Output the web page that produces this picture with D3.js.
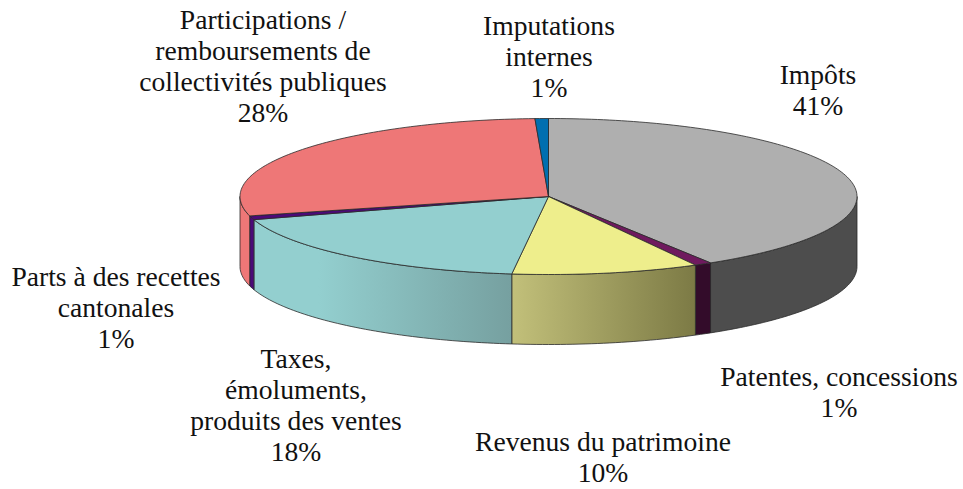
<!DOCTYPE html>
<html>
<head>
<meta charset="utf-8">
<style>
  html, body { margin: 0; padding: 0; background: #fff; }
  svg { display: block; }
  text { font-family: "Liberation Serif", serif; font-size: 27.6px; fill: #111; }
</style>
<script src="https://cdn.jsdelivr.net/npm/d3@7"></script>
</head>
<body>
<div id="chart"></div>
<script>
// clockwise from 12 o'clock, same order as the source chart
var categories = [
  ["Impôts"],
  ["Patentes, concessions"],
  ["Revenus du patrimoine"],
  ["Taxes,", "émoluments,", "produits des ventes"],
  ["Parts à des recettes", "cantonales"],
  ["Participations /", "remboursements de", "collectivités publiques"],
  ["Imputations", "internes"]
];
var values = [41.2, 0.9, 9.8, 18.3, 0.8, 28.3, 0.7];
var topColors = ["#AFAFAF", "#6F1A5E", "#EEEE8C", "#93CFCF", "#4B0A78", "#EE7777", "#006FB0"];
var wallFrom = ["#4D4D4D", "#330C2A", "#C2C07A", "#93CFCF", "#4B0A78", "#EE7777", "#006FB0"];
var wallTo = ["#4D4D4D", "#330C2A", "#7C7A45", "#76A0A0", "#4B0A78", "#EE7777", "#006FB0"];

var width = 963;
var height = 489;
var cx = 548.5, cy = 196.5, rx = 308.5, ry = 78, depth = 70;

// centre x of each label block, and baseline of its first line
var labelPos = [
  [818, 84], [839, 386], [603, 451], [296, 368],
  [116, 286], [263, 29], [549, 35]
];

var svg = d3.select("#chart").append("svg")
  .attr("width", width)
  .attr("height", height);

var xScale = d3.scaleLinear().domain([-1, 1]).range([cx - rx, cx + rx]);
var yScale = d3.scaleLinear().domain([-1, 1]).range([cy - ry, cy + ry]);

var pie = d3.pie().sort(null).value(function(d) { return d; });
var slices = pie(values);

// ellipse point for an angle measured clockwise from the top
function px(a) { return xScale(Math.sin(a)); }
function py(a) { return yScale(-Math.cos(a)); }

function arcPoints(a0, a1, dy) {
  var n = Math.max(2, Math.ceil((a1 - a0) / 0.02));
  return d3.range(n + 1).map(function(i) {
    var a = a0 + (a1 - a0) * i / n;
    return [px(a), py(a) + dy];
  });
}

var line = d3.line();
var defs = svg.append("defs");

// wall shading runs left to right on screen
slices.forEach(function(s, i) {
  var g = defs.append("linearGradient")
    .attr("id", "wall" + i)
    .attr("x1", 0).attr("x2", 1).attr("y1", 0).attr("y2", 0);
  g.append("stop").attr("offset", i === 3 ? 0.25 : 0).attr("stop-color", wallFrom[i]);
  g.append("stop").attr("offset", 1).attr("stop-color", wallTo[i]);
});

var edge = "#2a2a2a";

// front walls, only the part of the rim facing the viewer
var front = [Math.PI / 2, Math.PI * 3 / 2];
slices.forEach(function(s, i) {
  var a0 = Math.max(s.startAngle, front[0]);
  var a1 = Math.min(s.endAngle, front[1]);
  if (a1 <= a0) return;
  var pts = arcPoints(a0, a1, 0).concat(arcPoints(a0, a1, depth).reverse());
  svg.append("path")
    .attr("d", line(pts) + "Z")
    .attr("fill", "url(#wall" + i + ")")
    .attr("stroke", edge)
    .attr("stroke-width", 0.8);
});

// top face
slices.forEach(function(s, i) {
  var pts = [[cx, cy]].concat(arcPoints(s.startAngle, s.endAngle, 0));
  svg.append("path")
    .attr("d", line(pts) + "Z")
    .attr("fill", topColors[i])
    .attr("stroke", edge)
    .attr("stroke-width", 0.8)
    .attr("stroke-linejoin", "round");
});

// labels
categories.forEach(function(lines, i) {
  var t = svg.append("text")
    .attr("text-anchor", "middle")
    .attr("x", labelPos[i][0])
    .attr("y", labelPos[i][1]);
  lines.concat(Math.round(values[i]) + "%").forEach(function(l, k) {
    t.append("tspan")
      .attr("x", labelPos[i][0])
      .attr("dy", k === 0 ? 0 : 31)
      .text(l);
  });
});
</script>
</body>
</html>
